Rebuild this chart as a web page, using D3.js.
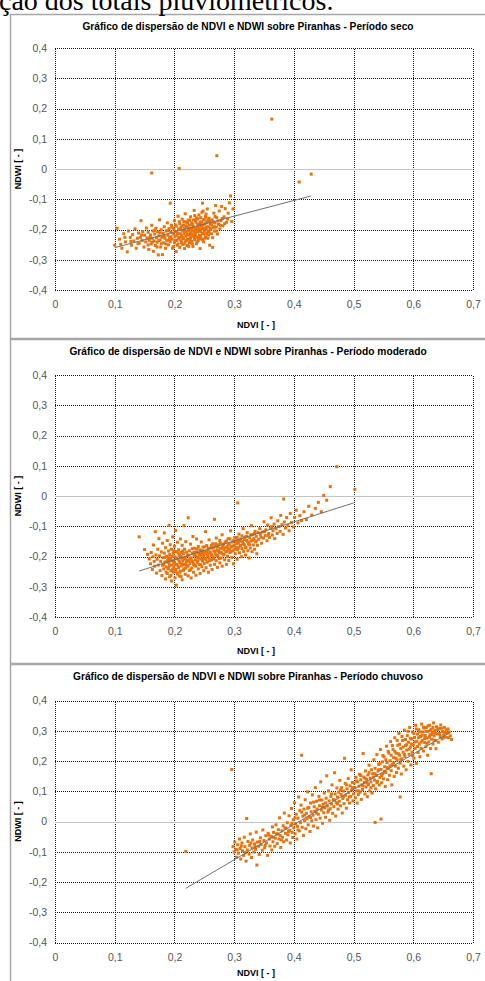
<!DOCTYPE html>
<html>
<head>
<meta charset="utf-8">
<script src="https://cdn.jsdelivr.net/npm/d3@7"></script>
<style>
  body { margin: 0; background: #fff; overflow: hidden; }
  text { font-family: "Liberation Sans", Arial, sans-serif; }
</style>
</head>
<body>
<script>
// ---- data ----
var xTicks = [0, 0.1, 0.2, 0.3, 0.4, 0.5, 0.6, 0.7];
var yTicks = [-0.4, -0.3, -0.2, -0.1, 0, 0.1, 0.2, 0.3, 0.4];
var titles = [
  "Gráfico de dispersão de NDVI e NDWI  sobre Piranhas - Período seco",
  "Gráfico de dispersão de NDVI e NDWI  sobre Piranhas - Período moderado",
  "Gráfico de dispersão de NDVI e NDWI  sobre Piranhas - Período chuvoso"
];
var xTitle = "NDVI [ - ]";
var yTitle = "NDWI [ - ]";

// Período seco
var seco = [
  [0.100,-0.252],[0.104,-0.196],[0.108,-0.232],[0.112,-0.262],[0.115,-0.214],[0.118,-0.241],[0.121,-0.274],[0.123,-0.205],[0.126,-0.226],[0.128,-0.252],[0.130,-0.217],[0.132,-0.238],[0.134,-0.198],[0.136,-0.262],[0.138,-0.229],
  [0.140,-0.212],[0.141,-0.245],[0.143,-0.226],[0.144,-0.171],[0.146,-0.236],[0.147,-0.207],[0.149,-0.258],[0.150,-0.219],[0.152,-0.241],[0.153,-0.195],[0.154,-0.228],[0.156,-0.209],[0.157,-0.266],[0.158,-0.236],[0.160,-0.218],[0.161,-0.248],[0.162,-0.186],[0.163,-0.229],[0.164,-0.205],[0.165,-0.272],[0.166,-0.238],[0.167,-0.215],[0.168,-0.253],[0.169,-0.196],[0.170,-0.227],[0.171,-0.242],[0.172,-0.208],[0.173,-0.284],[0.174,-0.221],[0.175,-0.168],[0.176,-0.235],[0.177,-0.258],[0.178,-0.201],[0.179,-0.226],[0.180,-0.283],
  [0.181,-0.213],[0.182,-0.244],[0.183,-0.191],[0.184,-0.229],[0.185,-0.262],[0.186,-0.205],[0.187,-0.236],[0.188,-0.178],[0.189,-0.219],[0.190,-0.251],[0.191,-0.197],[0.192,-0.228],[0.193,-0.113],[0.193,-0.241],[0.194,-0.209],[0.195,-0.186],[0.196,-0.232],[0.197,-0.262],[0.198,-0.215],[0.199,-0.199],[0.200,-0.244],[0.200,-0.171],[0.201,-0.224],[0.202,-0.207],[0.203,-0.273],[0.203,-0.189],[0.204,-0.236],[0.205,-0.213],[0.206,-0.156],[0.206,-0.248],[0.207,-0.198],[0.208,-0.226],[0.209,-0.181],[0.209,-0.259],[0.210,-0.214],[0.211,-0.237],[0.211,-0.193],[0.212,-0.222],[0.213,-0.166],[0.213,-0.249],[0.214,-0.205],[0.215,-0.231],[0.215,-0.185],[0.216,-0.214],[0.217,-0.263],[0.217,-0.197],[0.218,-0.241],[0.218,-0.148],[0.219,-0.222],[0.220,-0.176],[0.220,-0.209],[0.221,-0.253],[0.221,-0.191],[0.222,-0.232],[0.223,-0.203],[0.223,-0.169],[0.224,-0.218],[0.225,-0.245],[0.225,-0.186],[0.226,-0.211],
  [0.227,-0.228],[0.227,-0.158],[0.228,-0.197],[0.229,-0.239],[0.229,-0.178],[0.230,-0.214],[0.231,-0.256],[0.231,-0.189],[0.232,-0.222],[0.233,-0.137],[0.233,-0.205],[0.234,-0.234],[0.235,-0.171],[0.235,-0.213],[0.236,-0.195],[0.237,-0.247],[0.237,-0.162],[0.238,-0.226],[0.239,-0.183],[0.239,-0.208],[0.240,-0.236],[0.241,-0.152],[0.241,-0.198],[0.242,-0.219],[0.243,-0.175],[0.243,-0.263],[0.244,-0.206],[0.245,-0.188],[0.245,-0.231],[0.246,-0.143],[0.247,-0.213],[0.247,-0.113],[0.248,-0.196],[0.249,-0.167],[0.249,-0.241],[0.250,-0.204],[0.251,-0.182],[0.252,-0.224],[0.252,-0.157],[0.253,-0.199],[0.254,-0.213],[0.255,-0.132],[0.255,-0.174],[0.256,-0.229],[0.257,-0.191],[0.258,-0.163],[0.258,-0.208],[0.259,-0.252],[0.260,-0.181],[0.260,-0.197],
  [0.262,-0.214],[0.263,-0.168],[0.264,-0.259],[0.265,-0.193],[0.266,-0.146],[0.267,-0.205],[0.268,-0.178],[0.269,-0.121],[0.270,-0.192],[0.271,-0.161],[0.272,-0.215],[0.274,-0.183],[0.275,-0.139],[0.276,-0.198],[0.278,-0.171],[0.279,-0.124],[0.281,-0.188],[0.283,-0.158],[0.285,-0.131],[0.287,-0.176],[0.290,-0.146],[0.292,-0.112],[0.294,-0.089],[0.296,-0.174],[0.298,-0.132],
  [0.183,-0.222],[0.186,-0.248],[0.189,-0.204],[0.191,-0.235],[0.194,-0.224],[0.196,-0.193],[0.198,-0.257],[0.201,-0.236],[0.202,-0.185],[0.204,-0.219],[0.205,-0.252],[0.207,-0.231],[0.208,-0.174],[0.210,-0.201],[0.212,-0.244],[0.213,-0.188],[0.214,-0.227],[0.216,-0.174],[0.216,-0.248],[0.218,-0.206],[0.219,-0.188],[0.220,-0.236],[0.222,-0.217],[0.222,-0.178],[0.224,-0.197],[0.224,-0.256],[0.226,-0.236],[0.226,-0.169],[0.228,-0.219],[0.229,-0.203],[0.230,-0.183],[0.230,-0.248],[0.232,-0.193],[0.232,-0.168],[0.233,-0.228],[0.234,-0.154],[0.235,-0.199],[0.236,-0.222],[0.236,-0.176],[0.238,-0.204],[0.238,-0.241],[0.239,-0.165],[0.240,-0.191],[0.241,-0.228],[0.242,-0.182],[0.242,-0.205],[0.244,-0.161],[0.244,-0.222],[0.245,-0.198],[0.246,-0.176],[0.247,-0.234],[0.248,-0.185],[0.248,-0.139],[0.249,-0.214],[0.250,-0.167],[0.251,-0.196],[0.251,-0.229],[0.253,-0.178],[0.253,-0.149],[0.254,-0.192],[0.256,-0.205],[0.256,-0.165],[0.257,-0.218],[0.259,-0.172],[0.261,-0.199],[0.262,-0.185],[0.264,-0.227],[0.265,-0.176],[0.267,-0.191],[0.268,-0.157],[0.270,-0.205],[0.273,-0.172],[0.277,-0.186],[0.280,-0.164],[0.284,-0.181],[0.289,-0.165],[0.156,-0.251],[0.159,-0.225],[0.163,-0.242],[0.167,-0.203],[0.171,-0.258],[0.174,-0.236],[0.176,-0.211],[0.178,-0.247],[0.145,-0.218],[0.139,-0.247],[0.127,-0.239],[0.117,-0.226],[0.110,-0.249],
  [0.162,-0.013],[0.208,0.002],[0.271,0.044],[0.363,0.165],[0.409,-0.043],[0.429,-0.017]
];
var secoTrend = [[0.100,-0.260],[0.429,-0.089]];

// Período moderado
var moderado = [
  [0.141,-0.135],[0.150,-0.177],[0.155,-0.193],[0.158,-0.208],[0.160,-0.224],[0.161,-0.187],[0.163,-0.243],[0.164,-0.201],[0.165,-0.162],[0.166,-0.216],[0.167,-0.232],[0.168,-0.118],[0.169,-0.195],[0.170,-0.255],[0.171,-0.209],[0.172,-0.176],[0.173,-0.228],[0.174,-0.141],[0.175,-0.198],[0.176,-0.247],[0.177,-0.216],[0.178,-0.185],[0.179,-0.263],[0.180,-0.229],[0.180,-0.156],[0.181,-0.204],[0.182,-0.241],[0.183,-0.189],[0.183,-0.122],[0.184,-0.218],[0.185,-0.274],[0.185,-0.171],[0.186,-0.234],[0.187,-0.199],[0.188,-0.256],[0.188,-0.147],[0.189,-0.213],[0.190,-0.182],[0.190,-0.238],[0.191,-0.097],[0.191,-0.223],[0.192,-0.267],[0.192,-0.194],[0.193,-0.161],[0.194,-0.247],[0.194,-0.207],[0.195,-0.281],[0.195,-0.176],[0.196,-0.228],[0.197,-0.135],[0.197,-0.214],[0.198,-0.252],[0.198,-0.189],[0.199,-0.236],[0.200,-0.166],[0.200,-0.219],[0.201,-0.271],[0.201,-0.201],[0.202,-0.243],[0.202,-0.114],[0.203,-0.295],[0.203,-0.184],[0.204,-0.226],[0.205,-0.258],[0.205,-0.153],[0.206,-0.209],[0.207,-0.237],[0.207,-0.178],[0.208,-0.264],[0.208,-0.196],[0.209,-0.221],[0.210,-0.142],[0.210,-0.248],[0.211,-0.187],[0.212,-0.231],[0.212,-0.205],[0.213,-0.277],[0.213,-0.163],[0.214,-0.214],[0.215,-0.246],[0.215,-0.191],[0.216,-0.098],[0.216,-0.227],[0.217,-0.176],[0.218,-0.259],[0.218,-0.203],[0.219,-0.238],[0.219,-0.151],[0.220,-0.217],[0.220,-0.186],
  [0.221,-0.232],[0.222,-0.197],[0.223,-0.264],[0.223,-0.072],[0.224,-0.214],[0.225,-0.181],[0.225,-0.246],[0.226,-0.223],[0.227,-0.159],[0.228,-0.205],[0.228,-0.271],[0.229,-0.238],[0.230,-0.189],[0.231,-0.217],[0.231,-0.134],[0.232,-0.252],[0.233,-0.198],[0.234,-0.173],[0.234,-0.229],[0.235,-0.211],[0.236,-0.262],[0.237,-0.186],[0.237,-0.142],[0.238,-0.221],[0.239,-0.203],[0.240,-0.241],[0.240,-0.167],[0.241,-0.193],[0.242,-0.227],[0.243,-0.178],[0.243,-0.256],[0.244,-0.209],[0.245,-0.152],[0.246,-0.234],[0.246,-0.188],[0.247,-0.215],[0.248,-0.169],[0.249,-0.247],[0.249,-0.199],[0.250,-0.223],[0.251,-0.183],[0.252,-0.118],[0.252,-0.207],[0.253,-0.237],[0.254,-0.164],[0.255,-0.195],[0.255,-0.219],[0.256,-0.178],[0.257,-0.252],[0.258,-0.205],[0.258,-0.145],[0.259,-0.188],[0.260,-0.229],[0.261,-0.172],[0.262,-0.211],[0.262,-0.196],[0.263,-0.243],[0.264,-0.158],[0.265,-0.203],[0.266,-0.182],[0.267,-0.077],[0.267,-0.226],[0.268,-0.166],[0.269,-0.194],[0.270,-0.214],[0.270,-0.139],[0.271,-0.179],[0.272,-0.236],[0.273,-0.198],[0.274,-0.161],[0.275,-0.187],[0.276,-0.221],[0.276,-0.147],[0.277,-0.173],[0.278,-0.205],[0.279,-0.189],[0.280,-0.128],[0.280,-0.232],[0.281,-0.166],[0.282,-0.195],[0.283,-0.178],[0.284,-0.211],[0.285,-0.152],[0.286,-0.184],[0.287,-0.226],[0.288,-0.168],[0.289,-0.199],[0.290,-0.141],[0.290,-0.176],[0.291,-0.213],[0.292,-0.159],[0.293,-0.187],[0.294,-0.115],[0.295,-0.169],[0.296,-0.203],[0.297,-0.152],[0.298,-0.181],[0.299,-0.224],[0.300,-0.163],[0.301,-0.137],[0.302,-0.191],[0.303,-0.171],[0.304,-0.148],[0.305,-0.209],[0.306,-0.023],[0.306,-0.178],[0.307,-0.156],[0.308,-0.126],[0.309,-0.188],[0.310,-0.165],[0.311,-0.142],[0.312,-0.201],[0.313,-0.174],[0.314,-0.151],[0.315,-0.108],[0.316,-0.183],[0.317,-0.161],[0.318,-0.136],[0.319,-0.195],[0.320,-0.169],[0.321,-0.147],[0.322,-0.121],[0.323,-0.181],[0.324,-0.158],[0.325,-0.205],[0.326,-0.138],[0.327,-0.172],[0.328,-0.149],[0.329,-0.098],[0.330,-0.184],[0.331,-0.128],[0.332,-0.162],[0.333,-0.141],[0.334,-0.176],[0.335,-0.117],[0.336,-0.152],[0.337,-0.133],[0.338,-0.191],[0.339,-0.163],
  [0.182,-0.226],[0.184,-0.203],[0.186,-0.252],[0.187,-0.218],[0.189,-0.241],[0.190,-0.204],[0.192,-0.231],[0.193,-0.212],[0.194,-0.263],[0.196,-0.199],[0.197,-0.242],[0.199,-0.219],[0.199,-0.181],[0.201,-0.227],[0.203,-0.251],[0.204,-0.205],[0.206,-0.232],[0.206,-0.188],[0.208,-0.215],[0.209,-0.252],[0.211,-0.199],[0.211,-0.266],[0.213,-0.224],[0.214,-0.182],[0.216,-0.241],[0.217,-0.208],[0.219,-0.226],[0.221,-0.212],[0.223,-0.231],[0.224,-0.195],[0.226,-0.206],[0.227,-0.244],[0.229,-0.214],[0.230,-0.174],[0.232,-0.226],[0.233,-0.186],[0.235,-0.197],[0.236,-0.232],[0.238,-0.176],[0.239,-0.214],[0.241,-0.204],[0.242,-0.188],[0.244,-0.227],[0.245,-0.196],[0.247,-0.181],[0.248,-0.208],[0.250,-0.191],[0.251,-0.168],[0.253,-0.211],[0.254,-0.186],[0.256,-0.198],[0.257,-0.173],[0.259,-0.214],[0.260,-0.185],[0.262,-0.163],[0.263,-0.194],[0.265,-0.171],[0.266,-0.208],[0.268,-0.184],[0.269,-0.158],[0.271,-0.196],[0.272,-0.169],[0.274,-0.182],[0.275,-0.207],[0.277,-0.156],[0.278,-0.186],[0.280,-0.172],[0.282,-0.159],[0.283,-0.193],[0.285,-0.171],[0.287,-0.149],[0.288,-0.183],[0.290,-0.162],[0.292,-0.175],[0.293,-0.142],[0.295,-0.184],[0.297,-0.166],[0.299,-0.148],[0.301,-0.176],[0.303,-0.158],[0.305,-0.137],[0.307,-0.171],[0.309,-0.149],[0.311,-0.163],[0.313,-0.132],[0.315,-0.158],[0.317,-0.144],[0.319,-0.171],[0.321,-0.133],[0.323,-0.152],[0.326,-0.161],[0.328,-0.128],[0.331,-0.146],[0.334,-0.124],[0.337,-0.149],[0.340,-0.121],[0.345,-0.136],[0.351,-0.118],[0.357,-0.131],[0.363,-0.101],
  [0.341,-0.143],[0.343,-0.108],[0.344,-0.127],[0.346,-0.156],[0.347,-0.119],[0.349,-0.139],[0.350,-0.085],[0.352,-0.131],[0.353,-0.112],[0.355,-0.148],[0.356,-0.096],[0.358,-0.124],[0.359,-0.137],[0.361,-0.107],[0.362,-0.072],[0.364,-0.129],[0.365,-0.115],[0.367,-0.093],[0.368,-0.141],[0.370,-0.108],[0.372,-0.124],[0.373,-0.082],[0.375,-0.101],[0.377,-0.117],[0.378,-0.064],[0.380,-0.095],[0.382,-0.127],[0.383,-0.010],[0.384,-0.086],[0.386,-0.106],[0.388,-0.071],[0.390,-0.098],[0.392,-0.115],[0.394,-0.058],[0.396,-0.088],[0.399,-0.102],[0.401,-0.071],[0.404,-0.047],[0.407,-0.089],[0.410,-0.065],[0.413,-0.081],[0.417,-0.052],[0.421,-0.078],[0.425,-0.034],[0.430,-0.063],[0.436,-0.041],[0.441,-0.021],[0.446,-0.052],[0.450,0.002],[0.455,-0.014],[0.461,0.031],[0.472,0.097],[0.502,0.022]
];
var moderadoTrend = [[0.141,-0.248],[0.500,-0.023]];

// Período chuvoso
var chuvoso = [
  [0.219,-0.099],[0.296,0.172],
  [0.298,-0.083],[0.300,-0.101],[0.301,-0.068],[0.303,-0.092],[0.304,-0.118],[0.306,-0.077],[0.307,-0.105],[0.309,-0.058],[0.310,-0.089],[0.311,-0.124],[0.313,-0.071],[0.314,-0.097],[0.316,-0.112],[0.317,-0.052],[0.318,-0.083],[0.320,-0.131],[0.321,0.010],[0.322,-0.094],[0.323,-0.066],[0.325,-0.108],[0.326,-0.079],[0.327,-0.041],[0.329,-0.119],[0.330,-0.088],[0.331,-0.061],[0.333,-0.101],[0.334,-0.074],[0.336,-0.092],[0.337,-0.035],[0.338,-0.144],[0.339,-0.068],[0.341,-0.082],[0.342,-0.109],[0.344,-0.054],[0.345,-0.076],[0.347,-0.095],[0.348,-0.028],[0.350,-0.063],[0.351,-0.087],[0.353,-0.047],[0.354,-0.071],[0.356,-0.112],[0.357,-0.039],[0.359,-0.058],[0.360,-0.081],
  [0.362,-0.049],[0.363,-0.094],[0.364,-0.018],[0.365,-0.067],[0.366,-0.036],[0.368,-0.082],[0.369,-0.055],[0.370,-0.011],[0.371,-0.041],[0.372,-0.073],[0.374,-0.027],[0.375,-0.058],[0.376,0.012],[0.377,-0.046],[0.378,-0.086],[0.380,-0.031],[0.381,-0.052],[0.382,-0.014],[0.383,-0.067],[0.384,0.028],[0.386,-0.039],[0.387,-0.022],[0.388,-0.061],[0.389,-0.004],[0.390,-0.044],[0.392,0.019],[0.393,-0.029],[0.394,-0.071],[0.395,-0.012],[0.396,0.043],[0.397,-0.036],[0.398,-0.053],[0.399,0.006],[0.400,-0.021],[0.401,0.062],[0.402,-0.041],[0.403,-0.008],[0.404,0.024],[0.405,-0.058],[0.406,-0.016],[0.407,0.011],[0.408,0.081],[0.409,-0.031],[0.410,0.036],[0.411,-0.004],[0.412,0.054],[0.413,0.219],[0.414,-0.019],[0.415,0.018],[0.416,-0.046],[0.417,0.041],[0.418,0.003],[0.419,0.072],[0.420,-0.024],[0.421,0.027],[0.422,0.009],[0.423,0.098],[0.424,-0.011],[0.425,0.046],[0.426,0.016],[0.427,-0.033],[0.428,0.061],[0.429,0.032],[0.430,0.002],[0.431,0.088],[0.432,0.021],[0.433,-0.015],[0.434,0.049],[0.435,0.034],[0.436,0.112],[0.437,0.006],[0.438,0.067],[0.439,0.041],[0.440,-0.021],[0.441,0.024],[0.442,0.083],[0.443,0.052],[0.444,0.011],[0.445,0.131],[0.446,0.038],[0.447,0.071],[0.448,-0.006],[0.449,0.057],[0.450,0.029],[0.451,0.094],[0.452,0.045],[0.453,0.014],[0.454,0.077],[0.455,0.151],[0.456,0.051],[0.457,0.031],[0.458,0.101],[0.459,0.068],[0.460,0.004],[0.461,0.042],[0.462,0.083],[0.463,0.058],[0.464,0.121],[0.465,0.027],[0.466,0.072],[0.467,0.049],[0.468,0.161],[0.469,0.091],[0.470,0.018],[0.471,0.063],[0.472,0.111],[0.473,0.081],[0.474,0.041],[0.475,0.097],[0.476,0.067],[0.477,0.136],[0.478,0.052],[0.479,0.089],[0.480,0.112],[0.481,0.028],[0.482,0.076],[0.483,0.101],[0.484,0.059],[0.485,0.209],[0.486,0.126],[0.487,0.087],[0.488,0.044],[0.489,0.108],[0.490,0.072],[0.491,0.142],[0.492,0.096],[0.493,0.061],[0.494,0.118],[0.495,0.083],[0.496,0.171],[0.497,0.104],[0.498,0.129],[0.499,0.068],[0.500,0.091],
  [0.501,0.127],[0.502,0.112],[0.503,0.078],[0.504,0.146],[0.505,0.101],[0.506,0.061],[0.507,0.131],[0.508,0.089],[0.509,0.117],[0.510,0.156],[0.511,0.097],[0.512,0.138],[0.513,0.073],[0.514,0.121],[0.515,0.106],[0.516,0.225],[0.517,0.147],[0.518,0.129],[0.519,0.091],[0.520,0.167],[0.521,0.114],[0.522,0.139],[0.523,0.082],[0.524,0.154],[0.525,0.122],[0.526,0.186],[0.527,0.101],[0.528,0.143],[0.529,0.131],[0.530,0.171],[0.531,0.094],[0.532,0.158],[0.533,0.119],[0.534,0.204],[0.535,0.137],[0.536,-0.003],[0.536,0.176],[0.537,0.108],[0.538,0.152],[0.539,0.221],[0.540,0.133],[0.541,0.167],[0.542,0.189],[0.543,0.121],[0.544,0.146],[0.545,0.238],[0.546,0.008],[0.546,0.172],[0.547,0.128],[0.548,0.197],[0.549,0.158],[0.550,0.141],[0.551,0.214],[0.552,0.181],[0.553,0.116],[0.554,0.162],[0.555,0.249],[0.556,0.195],[0.557,0.138],[0.558,0.175],[0.559,0.226],[0.560,0.153],[0.561,0.201],[0.562,0.264],[0.563,0.168],[0.564,0.121],[0.565,0.188],[0.566,0.238],[0.567,0.211],[0.568,0.149],[0.569,0.277],[0.570,0.183],[0.571,0.226],[0.572,0.162],[0.573,0.203],[0.574,0.252],[0.575,0.176],[0.576,0.291],[0.577,0.219],[0.578,0.081],[0.578,0.193],[0.579,0.241],[0.580,0.157],[0.581,0.207],[0.582,0.268],[0.583,0.229],[0.584,0.183],[0.585,0.302],[0.586,0.215],[0.587,0.251],[0.588,0.171],[0.589,0.236],[0.590,0.284],[0.591,0.199],[0.592,0.262],[0.593,0.222],[0.594,0.311],[0.595,0.246],[0.596,0.187],[0.597,0.273],[0.598,0.229],[0.599,0.296],[0.600,0.253],[0.601,0.209],[0.602,0.278],[0.603,0.241],[0.604,0.318],[0.605,0.192],[0.606,0.265],[0.607,0.289],[0.608,0.228],[0.609,0.303],[0.610,0.256],[0.611,0.214],[0.612,0.281],[0.613,0.242],[0.614,0.322],[0.615,0.268],[0.616,0.296],[0.617,0.233],[0.618,0.309],[0.619,0.261],[0.620,0.284],[0.621,0.247],[0.622,0.311],[0.623,0.276],[0.624,0.219],[0.625,0.298],[0.626,0.263],[0.627,0.318],[0.628,0.287],[0.629,0.241],[0.630,0.158],[0.630,0.305],[0.631,0.272],[0.632,0.294],[0.633,0.256],[0.634,0.326],[0.635,0.283],[0.636,0.301],[0.637,0.268],[0.638,0.241],[0.639,0.313],[0.640,0.289],[0.642,0.262],[0.643,0.307],[0.645,0.281],[0.646,0.319],[0.648,0.273],[0.649,0.298],[0.651,0.286],[0.652,0.311],[0.654,0.279],[0.655,0.302],[0.657,0.292],[0.659,0.277],[0.660,0.296],[0.662,0.283],[0.664,0.271],
  [0.505,0.134],[0.509,0.101],[0.512,0.152],[0.516,0.118],[0.519,0.143],[0.523,0.127],[0.526,0.161],[0.529,0.112],[0.533,0.147],[0.536,0.158],[0.539,0.128],[0.542,0.171],[0.544,0.191],[0.547,0.152],[0.549,0.218],[0.552,0.166],[0.554,0.204],[0.556,0.178],[0.558,0.232],[0.561,0.184],[0.563,0.219],[0.565,0.251],[0.567,0.194],[0.569,0.232],[0.571,0.209],[0.573,0.268],[0.575,0.224],[0.577,0.255],[0.579,0.206],[0.581,0.281],[0.583,0.246],[0.585,0.222],[0.587,0.271],[0.589,0.254],[0.591,0.298],[0.593,0.239],[0.595,0.275],[0.597,0.256],[0.599,0.218],[0.601,0.291],[0.603,0.263],[0.605,0.306],[0.607,0.248],[0.609,0.277],[0.611,0.296],[0.613,0.262],[0.615,0.285],[0.617,0.312],[0.619,0.274],[0.621,0.298],[0.623,0.258],[0.625,0.316],[0.627,0.279],[0.629,0.301],[0.631,0.288],[0.633,0.311],[0.635,0.268],[0.637,0.292],[0.641,0.304],[0.644,0.291],[0.647,0.308],[0.650,0.276],[0.653,0.294],[0.658,0.306],
  [0.365,-0.052],[0.373,-0.041],[0.379,-0.061],[0.385,-0.021],[0.391,-0.033],[0.397,-0.006],[0.402,0.012],[0.407,-0.028],[0.413,0.031],[0.418,0.021],[0.423,0.044],[0.428,0.013],[0.433,0.064],[0.438,0.028],[0.443,0.071],[0.448,0.047],[0.453,0.061],[0.458,0.038],[0.463,0.091],[0.468,0.071],[0.473,0.058],[0.478,0.104],[0.483,0.082],[0.488,0.121],[0.493,0.081],[0.498,0.112],
  [0.305,-0.094],[0.312,-0.081],[0.319,-0.103],[0.328,-0.071],[0.335,-0.083],[0.343,-0.066],[0.352,-0.079],[0.358,-0.045]
];
var chuvosoTrend = [[0.219,-0.221],[0.662,0.295]];

// ---- drawing ----
var W = 485, H = 981;
var plotH = 242;
var svg = d3.select("body").append("svg").attr("width", W).attr("height", H);

var panels = [
  { title: titles[0], points: seco,     trend: secoTrend,     frameTop: 14,  frameBottom: 338, top: 48,    xTitleGap: 38 },
  { title: titles[1], points: moderado, trend: moderadoTrend, frameTop: 339, frameBottom: 663, top: 375,   xTitleGap: 37 },
  { title: titles[2], points: chuvoso,  trend: chuvosoTrend,  frameTop: 664, frameBottom: 995, top: 700.5, xTitleGap: 33 }
];

var x = d3.scaleLinear().domain([0, 0.7]).range([55, 473]);
var fmt = function (d) { return d === 0 ? "0" : String(+d.toFixed(1)).replace(".", ","); };

panels.forEach(function (p) {
  var g = svg.append("g");
  var y = d3.scaleLinear().domain([-0.4, 0.4]).range([p.top + plotH, p.top]);

  g.append("rect")
    .attr("x", 10.5).attr("y", p.frameTop + 0.5)
    .attr("width", 490).attr("height", p.frameBottom - p.frameTop)
    .attr("fill", "#fff").attr("stroke", "#a6a6a6").attr("stroke-width", 1.5);

  g.append("text")
    .attr("x", 248).attr("y", p.frameTop + 15.5)
    .attr("text-anchor", "middle")
    .style("font-size", "10.2px").style("font-weight", "bold")
    .text(p.title);

  // gridlines with axes
  var gx = g.append("g")
    .attr("transform", "translate(0," + (p.top + plotH) + ")")
    .call(d3.axisBottom(x).tickValues(xTicks).tickSize(-plotH).tickPadding(11).tickFormat(fmt));
  var gy = g.append("g")
    .attr("transform", "translate(55,0)")
    .call(d3.axisLeft(y).tickValues(yTicks).tickSize(-(473 - 55)).tickPadding(8).tickFormat(fmt));

  [gx, gy].forEach(function (a) {
    a.select(".domain").remove();
    a.selectAll(".tick line")
      .attr("stroke", "#1a1a1a").attr("stroke-dasharray", "1,1")
      .attr("shape-rendering", "crispEdges");
    a.selectAll(".tick text")
      .attr("fill", "#555").style("font-size", "10.5px")
      .style("font-family", "'Liberation Sans', Arial, sans-serif");
  });
  gy.selectAll(".tick line")
    .filter(function (d) { return d === 0; })
    .attr("stroke", "#c4c4c4").attr("stroke-dasharray", null);

  // points
  g.append("g").selectAll("rect")
    .data(p.points)
    .enter().append("rect")
    .attr("x", function (d) { return x(d[0]) - 1.5; })
    .attr("y", function (d) { return y(d[1]) - 1.5; })
    .attr("width", 3).attr("height", 3)
    .attr("fill", "#e8720c");

  // linear trend
  g.append("path")
    .datum(p.trend)
    .attr("d", d3.line().x(function (d) { return x(d[0]); }).y(function (d) { return y(d[1]); }))
    .attr("fill", "none").attr("stroke", "#707070").attr("stroke-width", 1);

  // axis titles
  g.append("text")
    .attr("x", 256).attr("y", p.top + plotH + p.xTitleGap)
    .attr("text-anchor", "middle")
    .style("font-size", "9px").style("font-weight", "bold")
    .text(xTitle);
  g.append("text")
    .attr("transform", "translate(21," + (p.top + plotH / 2) + ") rotate(-90)")
    .attr("text-anchor", "middle")
    .style("font-size", "9px").style("font-weight", "bold")
    .text(yTitle);
});

// running text of the document, cut by the crop
svg.append("text")
  .attr("x", -1).attr("y", 10)
  .style("font-family", "'Liberation Serif', 'Times New Roman', serif")
  .style("font-size", "28px")
  .text("ção dos totais pluviométricos.");
</script>
</body>
</html>
